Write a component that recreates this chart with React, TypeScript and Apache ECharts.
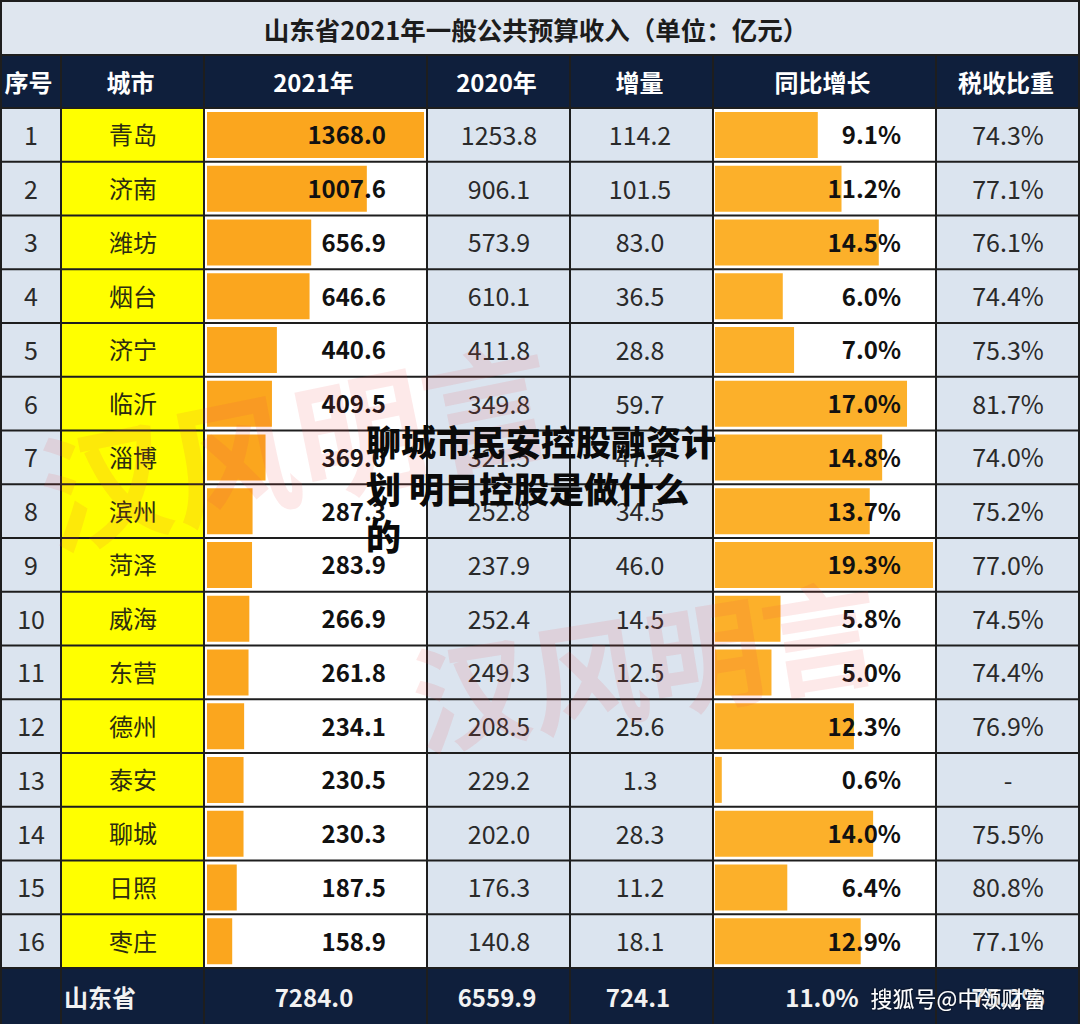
import React, { useEffect, useRef } from "react";
import * as echarts from "echarts";

const title = "山东省2021年一般公共预算收入（单位：亿元）";
const headers = ["序号", "城市", "2021年", "2020年", "增量", "同比增长", "税收比重"];
const cities = ["青岛", "济南", "潍坊", "烟台", "济宁", "临沂", "淄博", "滨州", "菏泽", "威海", "东营", "德州", "泰安", "聊城", "日照", "枣庄"];
const rev2021 = [1368.0, 1007.6, 656.9, 646.6, 440.6, 409.5, 369.0, 287.3, 283.9, 266.9, 261.8, 234.1, 230.5, 230.3, 187.5, 158.9];
const rev2020 = [1253.8, 906.1, 573.9, 610.1, 411.8, 349.8, 321.5, 252.8, 237.9, 252.4, 249.3, 208.5, 229.2, 202.0, 176.3, 140.8];
const increase = [114.2, 101.5, 83.0, 36.5, 28.8, 59.7, 47.4, 34.5, 46.0, 14.5, 12.5, 25.6, 1.3, 28.3, 11.2, 18.1];
const growth = [9.1, 11.2, 14.5, 6.0, 7.0, 17.0, 14.8, 13.7, 19.3, 5.8, 5.0, 12.3, 0.6, 14.0, 6.4, 12.9];
const taxShare = ["74.3%", "77.1%", "76.1%", "74.4%", "75.3%", "81.7%", "74.0%", "75.2%", "77.0%", "74.5%", "74.4%", "76.9%", "-", "75.5%", "80.8%", "77.1%"];
const totalRow = ["山东省", "7284.0", "6559.9", "724.1", "11.0%", "75.2%"];
const overlayText = "聊城市民安控股融资计\n划 明日控股是做什么\n的";
const watermark = "汉风明言";
const credit = "搜狐号@中领财富";

const FONT = '"Noto Sans CJK SC", "Noto Sans", sans-serif';

export default function App() {
  const ref = useRef<HTMLDivElement>(null);
  useEffect(() => {
    document.body.style.margin = "0";
    const chart = echarts.init(ref.current!, null, { renderer: "svg" });

    const colX = [0, 61, 204, 427, 570, 713, 936, 1080];
    const headTop = 55;
    const bodyTop = 108;
    const rowH = 53.75;
    const n = cities.length;
    const bodyBottom = bodyTop + rowH * n;
    const footBottom = 1024;
    const navy = "#0f1f3c";
    const light = "#dbe4ef";
    const lineC = "#1e1e1e";
    const g: any[] = [];

    // title
    g.push({ type: "rect", shape: { x: 0, y: 0, width: 1080, height: headTop }, style: { fill: "#dfe6ef" }, z: 0 });
    g.push({ type: "text", x: 536, y: 28, style: { text: title, font: `bold 25.5px ${FONT}`, fill: "#1c1c1c", align: "center", verticalAlign: "middle" }, z: 10 });
    // header
    g.push({ type: "rect", shape: { x: 0, y: headTop, width: 1080, height: bodyTop - headTop }, style: { fill: navy }, z: 0 });
    headers.forEach((h, i) => {
      g.push({ type: "text", x: (colX[i] + colX[i + 1]) / 2 - 2, y: (headTop + bodyTop) / 2, style: { text: h, font: `bold 24px ${FONT}`, fill: "#ffffff", align: "center", verticalAlign: "middle" }, z: 10 });
    });
    // body column backgrounds
    const bgs = [light, "#ffff00", "#ffffff", light, light, "#ffffff", light];
    bgs.forEach((c, i) => {
      g.push({ type: "rect", shape: { x: colX[i], y: bodyTop, width: colX[i + 1] - colX[i], height: bodyBottom - bodyTop }, style: { fill: c }, z: 0 });
    });
    // body texts
    for (let r = 0; r < n; r++) {
      const cy = bodyTop + rowH * r + rowH / 2 - 1;
      const reg = (x: number, t: string, extra: any = {}) =>
        g.push({ type: "text", x, y: cy, style: { text: t, font: `25px ${FONT}`, fill: "#2a2a2a", align: "center", verticalAlign: "middle", ...extra }, z: 10 });
      reg(31, String(r + 1));
      reg(133, cities[r], { font: `24px ${FONT}`, fill: "#2c2c10" });
      reg(386, rev2021[r].toFixed(1), { font: `bold 24px ${FONT}`, fill: "#111", align: "right" });
      reg(499, rev2020[r].toFixed(1));
      reg(640, increase[r].toFixed(1));
      reg(901, growth[r].toFixed(1) + "%", { font: `bold 24px ${FONT}`, fill: "#111", align: "right" });
      reg(1008, taxShare[r]);
    }
    // footer
    g.push({ type: "rect", shape: { x: 0, y: bodyBottom, width: 1080, height: footBottom - bodyBottom }, style: { fill: navy }, z: 0 });
    const footX = [100, 314, 497, 638, 822, 1008];
    totalRow.forEach((t, i) => {
      g.push({ type: "text", x: footX[i], y: (bodyBottom + footBottom) / 2, style: { text: t, font: `bold 24px ${FONT}`, fill: "#f2f2f2", align: "center", verticalAlign: "middle" }, z: 10 });
    });
    // grid lines
    const hy = [1, headTop, bodyTop];
    for (let r = 1; r <= n; r++) hy.push(bodyTop + rowH * r);
    hy.forEach((y) => g.push({ type: "line", shape: { x1: 0, y1: y, x2: 1080, y2: y }, style: { stroke: lineC, lineWidth: 2 }, z: 5 }));
    colX.slice(1, -1).forEach((x) => g.push({ type: "line", shape: { x1: x, y1: headTop, x2: x, y2: footBottom }, style: { stroke: lineC, lineWidth: 2 }, z: 5 }));
    g.push({ type: "line", shape: { x1: 1, y1: 0, x2: 1, y2: footBottom }, style: { stroke: lineC, lineWidth: 2 }, z: 5 });
    g.push({ type: "line", shape: { x1: 1079, y1: 0, x2: 1079, y2: footBottom }, style: { stroke: lineC, lineWidth: 2 }, z: 5 });
    // watermarks
    g.push({ type: "text", x: 295, y: 440, rotation: 0.2, style: { text: watermark, font: `bold 130px ${FONT}`, fill: "rgba(235,70,70,0.12)", align: "center", verticalAlign: "middle" }, z: 20 });
    g.push({ type: "text", x: 645, y: 660, rotation: 0.16, style: { text: watermark, font: `bold 118px ${FONT}`, fill: "rgba(235,70,70,0.12)", align: "center", verticalAlign: "middle" }, z: 20 });
    // overlay text
    g.push({ type: "text", x: 366, y: 417, style: { text: overlayText, font: `900 35px ${FONT}`, fill: "#0a0a0a", align: "left", verticalAlign: "top", lineHeight: 47 }, z: 30 });
    g.push({ type: "text", x: 958, y: 997, style: { text: credit, font: `22px ${FONT}`, fill: "#ffffff", align: "center", verticalAlign: "middle", textShadowColor: "rgba(0,0,0,0.8)", textShadowBlur: 2 }, z: 30 });

    const catAxis = (gi: number) => ({ type: "category", gridIndex: gi, data: cities, inverse: true, show: false });

    chart.setOption({
      animation: false,
      grid: [
        { left: 207, width: 217, top: bodyTop, height: bodyBottom - bodyTop, containLabel: false },
        { left: 715, width: 218, top: bodyTop, height: bodyBottom - bodyTop, containLabel: false },
      ],
      xAxis: [
        { type: "value", gridIndex: 0, min: 0, max: 1368, show: false },
        { type: "value", gridIndex: 1, min: 0, max: 19.3, show: false },
      ],
      yAxis: [catAxis(0), catAxis(1)],
      series: [
        { type: "bar", xAxisIndex: 0, yAxisIndex: 0, data: rev2021, barWidth: 46, itemStyle: { color: "#fba61e" }, z: 2 },
        { type: "bar", xAxisIndex: 1, yAxisIndex: 1, data: growth, barWidth: 46, itemStyle: { color: "#fcb02a" }, z: 2 },
      ],
      graphic: { elements: g },
    });
    return () => chart.dispose();
  }, []);
  return <div ref={ref} style={{ width: 1080, height: 1024 }} />;
}
